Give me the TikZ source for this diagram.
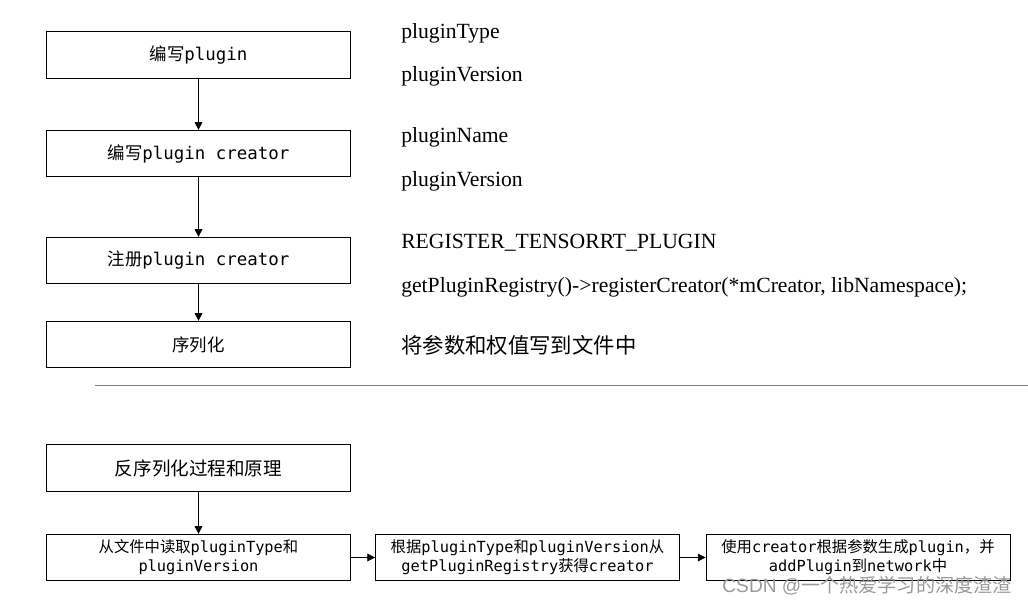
\documentclass[tikz,border=0pt]{standalone}
\usepackage{fontspec}
\setmainfont{Liberation Serif}
\setmonofont{DejaVu Sans Mono}
\setsansfont{Liberation Sans}
\newfontfamily\cjk{Noto Sans CJK SC}
\usetikzlibrary{arrows.meta}
\tikzstyle{process}=[draw, semithick, minimum width=7.6cm, minimum height=1.16cm, inner sep=0, align=center, font=\ttfamily\fontsize{12.4}{15}\selectfont]
\tikzstyle{small process}=[process, font=\ttfamily\fontsize{10.9}{13.5}\selectfont]
\tikzstyle{flow}=[semithick, -{Triangle[length=5.5pt,width=5.5pt]}]
\tikzstyle{note}=[anchor=west, inner sep=0, font=\fontsize{15.4}{17}\selectfont]

\begin{document}
\begin{tikzpicture}[x=0.025cm, y=-0.025cm]
  \useasboundingbox (0, 0) rectangle (1028, 603);
  % serialization steps
  \node[process] (write_plugin) at (198.5, 55) {{\cjk 编写}plugin};
  \node[process] (write_creator) at (198.5, 153.5) {{\cjk 编写}plugin creator};
  \node[process] (register) at (198.5, 260.5) {{\cjk 注册}plugin creator};
  \node[process] (serialize) at (198.5, 344.5) {{\cjk 序列化}};

  \draw[flow] (write_plugin) -- (write_creator);
  \draw[flow] (write_creator) -- (register);
  \draw[flow] (register) -- (serialize);

  % notes
  \node[note] (type_note) at (401, 33) {pluginType};
  \node[note] (version_note) at (401, 76) {pluginVersion};
  \node[note] (name_note) at (401, 137) {pluginName};
  \node[note] (version_note_2) at (401, 181) {pluginVersion};
  \node[note] (macro_note) at (401, 243) {REGISTER\_TENSORRT\_PLUGIN};
  \node[note] (call_note) at (401, 287) {getPluginRegistry()->registerCreator(*mCreator, libNamespace);};
  \node[note, font=\cjk\fontsize{15.2}{17}\selectfont] (serialize_note) at (401, 345) {将参数和权值写到文件中};

  \coordinate (rule_left) at (95, 385);
  \coordinate (rule_right) at (1028, 385);
  \draw[gray, thin] (rule_left) -- (rule_right);

  % deserialization
  \node[process, font=\cjk\fontsize{13.2}{15}\selectfont] (deserialize) at (198.5, 468) {反序列化过程和原理};
  \node[small process] (read) at (198.5, 557.5) {{\cjk 从文件中读取}pluginType{\cjk 和}\\pluginVersion};
  \node[small process] (lookup) at (527.5, 557.5) {{\cjk 根据}pluginType{\cjk 和}pluginVersion{\cjk 从}\\getPluginRegistry{\cjk 获得}creator};
  \node[small process] (create) at (858, 557.5) {{\cjk 使用}creator{\cjk 根据参数生成}plugin{\cjk ，并}\\addPlugin{\cjk 到}network{\cjk 中}};

  \draw[flow] (deserialize) -- (read);
  \draw[flow] (read) -- (lookup);
  \draw[flow] (lookup) -- (create);

  \node[anchor=east, inner sep=0, text=gray!80, font=\sffamily\fontsize{13.6}{15}\selectfont] (watermark) at (1012, 586) {CSDN @{\cjk 一个热爱学习的深度渣渣}};
\end{tikzpicture}
\end{document}
